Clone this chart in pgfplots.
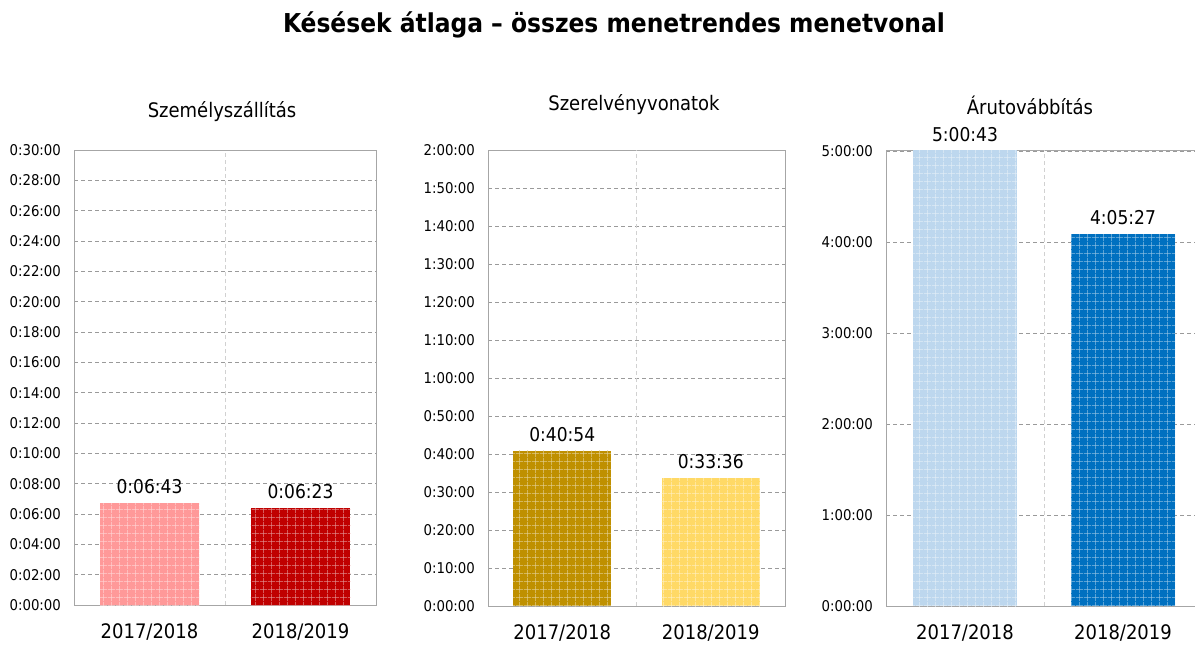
\documentclass[border=0pt]{standalone}
\usepackage{pgfplots}
\pgfplotsset{compat=1.18}
\usetikzlibrary{patterns.meta}
\usepackage{fontspec}
\setmainfont{DejaVu Sans Condensed}

\definecolor{pinkA}{HTML}{FF9999}
\definecolor{redB}{HTML}{C00000}
\definecolor{goldA}{HTML}{BF9000}
\definecolor{goldB}{HTML}{FFD966}
\definecolor{blueA}{HTML}{BDD7EE}
\definecolor{blueB}{HTML}{0070C0}
\definecolor{gridgray}{HTML}{9A9A9A}
\definecolor{framegray}{HTML}{A6A6A6}

\pgfplotsset{
  panel/.style={
    ybar, bar shift=0pt, bar width=0.66,
    scale only axis, anchor=south west,
    xmin=-0.5, xmax=1.5, ymin=0,
    xtick={0,1}, xticklabels={2017/2018,2018/2019},
    xticklabel style={font=\fontsize{10}{12}\selectfont, yshift=-6pt},
    yticklabel style={font=\fontsize{7.4}{8}\selectfont, xshift=-3pt},
    major tick length=0pt,
    axis line style={framegray},
    ymajorgrids,
    major grid style={gridgray, dash pattern=on 2pt off 1.5pt, line width=0.4pt},
    extra x ticks={0.5}, extra x tick labels={},
    extra x tick style={grid=major, major grid style={black!18, dash pattern=on 2pt off 1.5pt}},
    clip=false,
    nodes near coords, point meta=explicit symbolic,
    nodes near coords style={font=\fontsize{9.5}{11}\selectfont, black, yshift=1pt},
  },
  hatch/.style={fill=#1, draw=none,
    postaction={pattern={Hatch[angle=0,distance=4pt,line width=0.35pt]}, pattern color=white!55!#1}},
}

\begin{document}
\begin{tikzpicture}

\node[font=\fontsize{13}{15}\selectfont\bfseries] at (307pt,309.5pt) {Késések átlaga – összes menetrendes menetvonal};
\node[font=\fontsize{10}{12}\selectfont] at (111pt,266pt) {Személyszállítás};
\node[font=\fontsize{10}{12}\selectfont] at (317pt,269.5pt) {Szerelvényvonatok};
\node[font=\fontsize{10}{12}\selectfont] at (515pt,269.5pt) {Árutovábbítás};

% Személyszállítás (minutes)
\begin{axis}[panel, at={(37pt,19.5pt)}, width=151pt, height=227.5pt,
  ymax=30, ytick={0,2,...,30},
  yticklabels={0:00:00,0:02:00,0:04:00,0:06:00,0:08:00,0:10:00,0:12:00,0:14:00,0:16:00,0:18:00,0:20:00,0:22:00,0:24:00,0:26:00,0:28:00,0:30:00}]
\addplot[hatch=pinkA] coordinates {(0,6.7167)[0:06:43]};
\addplot[hatch=redB] coordinates {(1,6.3833)[0:06:23]};
\end{axis}

% Szerelvényvonatok (minutes)
\begin{axis}[panel, at={(244pt,19pt)}, width=148.5pt, height=228pt,
  ymax=120, ytick={0,10,...,120},
  yticklabels={0:00:00,0:10:00,0:20:00,0:30:00,0:40:00,0:50:00,1:00:00,1:10:00,1:20:00,1:30:00,1:40:00,1:50:00,2:00:00}]
\addplot[hatch=goldA] coordinates {(0,40.9)[0:40:54]};
\addplot[hatch=goldB] coordinates {(1,33.6)[0:33:36]};
\end{axis}

% Árutovábbítás (minutes)
\begin{axis}[panel, at={(443pt,19pt)}, width=158pt, height=228pt,
  ymax=301, ytick={0,60,...,300},
  yticklabels={0:00:00,1:00:00,2:00:00,3:00:00,4:00:00,5:00:00}]
\addplot[hatch=blueA] coordinates {(0,300.7167)[5:00:43]};
\addplot[hatch=blueB] coordinates {(1,245.45)[4:05:27]};
\end{axis}

\pgfresetboundingbox
\path[use as bounding box] (0,0) rectangle (597.5pt,322pt);
\end{tikzpicture}
\end{document}
